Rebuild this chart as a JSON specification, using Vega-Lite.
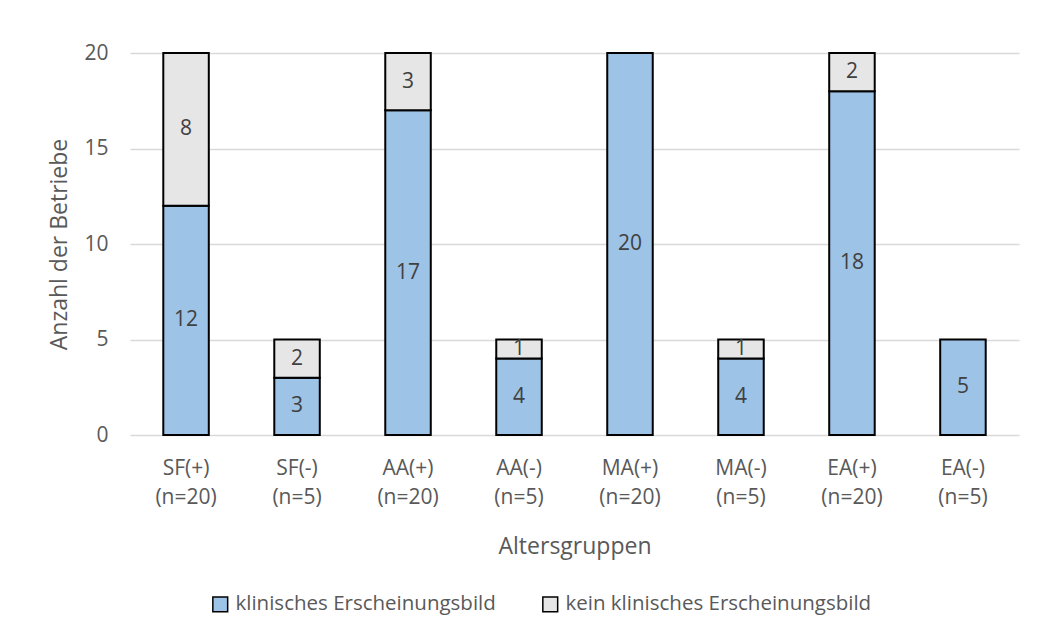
{
  "$schema": "https://vega.github.io/schema/vega-lite/v6.json",
  "width": 889,
  "height": 382,
  "autosize": {"type": "none"},
  "padding": {"top": 53, "left": 130, "right": 39, "bottom": 202},
  "background": "white",
  "data": {
    "values": [
      {"gruppe": "SF(+) (n=20)", "status": "klinisches Erscheinungsbild", "ord": 1, "anzahl": 12},
      {"gruppe": "SF(+) (n=20)", "status": "kein klinisches Erscheinungsbild", "ord": 2, "anzahl": 8},
      {"gruppe": "SF(-) (n=5)", "status": "klinisches Erscheinungsbild", "ord": 1, "anzahl": 3},
      {"gruppe": "SF(-) (n=5)", "status": "kein klinisches Erscheinungsbild", "ord": 2, "anzahl": 2},
      {"gruppe": "AA(+) (n=20)", "status": "klinisches Erscheinungsbild", "ord": 1, "anzahl": 17},
      {"gruppe": "AA(+) (n=20)", "status": "kein klinisches Erscheinungsbild", "ord": 2, "anzahl": 3},
      {"gruppe": "AA(-) (n=5)", "status": "klinisches Erscheinungsbild", "ord": 1, "anzahl": 4},
      {"gruppe": "AA(-) (n=5)", "status": "kein klinisches Erscheinungsbild", "ord": 2, "anzahl": 1},
      {"gruppe": "MA(+) (n=20)", "status": "klinisches Erscheinungsbild", "ord": 1, "anzahl": 20},
      {"gruppe": "MA(-) (n=5)", "status": "klinisches Erscheinungsbild", "ord": 1, "anzahl": 4},
      {"gruppe": "MA(-) (n=5)", "status": "kein klinisches Erscheinungsbild", "ord": 2, "anzahl": 1},
      {"gruppe": "EA(+) (n=20)", "status": "klinisches Erscheinungsbild", "ord": 1, "anzahl": 18},
      {"gruppe": "EA(+) (n=20)", "status": "kein klinisches Erscheinungsbild", "ord": 2, "anzahl": 2},
      {"gruppe": "EA(-) (n=5)", "status": "klinisches Erscheinungsbild", "ord": 1, "anzahl": 5}
    ]
  },
  "transform": [
    {"stack": "anzahl", "groupby": ["gruppe"], "sort": [{"field": "ord", "order": "ascending"}], "as": ["unten", "oben"]},
    {"calculate": "(datum.unten + datum.oben) / 2", "as": "mitte"}
  ],
  "encoding": {
    "x": {
      "field": "gruppe",
      "type": "nominal",
      "sort": null,
      "scale": {"paddingInner": 0.59, "paddingOuter": 0.3},
      "axis": {
        "title": "Altersgruppen",
        "labelExpr": "split(datum.label, ' ')",
        "labelAngle": 0,
        "labelPadding": 22,
        "labelLineHeight": 29,
        "ticks": false,
        "domain": false,
        "titlePadding": 28
      }
    }
  },
  "layer": [
    {
      "mark": {"type": "bar", "stroke": "black", "strokeWidth": 2},
      "encoding": {
        "y": {
          "field": "unten",
          "type": "quantitative",
          "scale": {"domain": [0, 20], "nice": false},
          "axis": {
            "title": "Anzahl der Betriebe",
            "values": [0, 5, 10, 15, 20],
            "grid": true,
            "gridColor": "#D9D9D9",
            "gridWidth": 1.5,
            "ticks": false,
            "domain": false,
            "labelPadding": 22,
            "titlePadding": 12
          }
        },
        "y2": {"field": "oben"},
        "color": {
          "field": "status",
          "type": "nominal",
          "scale": {
            "domain": ["klinisches Erscheinungsbild", "kein klinisches Erscheinungsbild"],
            "range": ["#9DC3E6", "#E7E6E6"]
          },
          "legend": {
            "title": null,
            "orient": "none",
            "direction": "horizontal",
            "legendX": 80,
            "legendY": 541,
            "symbolType": "square",
            "symbolSize": 220,
            "symbolStrokeColor": "black",
            "symbolStrokeWidth": 1.5,
            "columnPadding": 43,
            "labelOffset": 5
          }
        }
      }
    },
    {
      "mark": {"type": "text", "baseline": "middle", "align": "center", "color": "#404040", "fontSize": 21},
      "encoding": {
        "y": {"field": "mitte", "type": "quantitative"},
        "text": {"field": "anzahl", "type": "quantitative"}
      }
    }
  ],
  "config": {
    "font": "Open Sans",
    "view": {"stroke": null},
    "axis": {
      "labelFont": "Open Sans",
      "titleFont": "Open Sans",
      "labelFontSize": 21,
      "titleFontSize": 23,
      "labelColor": "#595959",
      "titleColor": "#595959",
      "titleFontWeight": "normal"
    },
    "legend": {
      "labelFont": "Open Sans",
      "labelFontSize": 20.5,
      "labelColor": "#595959",
      "labelLimit": 400
    }
  }
}
